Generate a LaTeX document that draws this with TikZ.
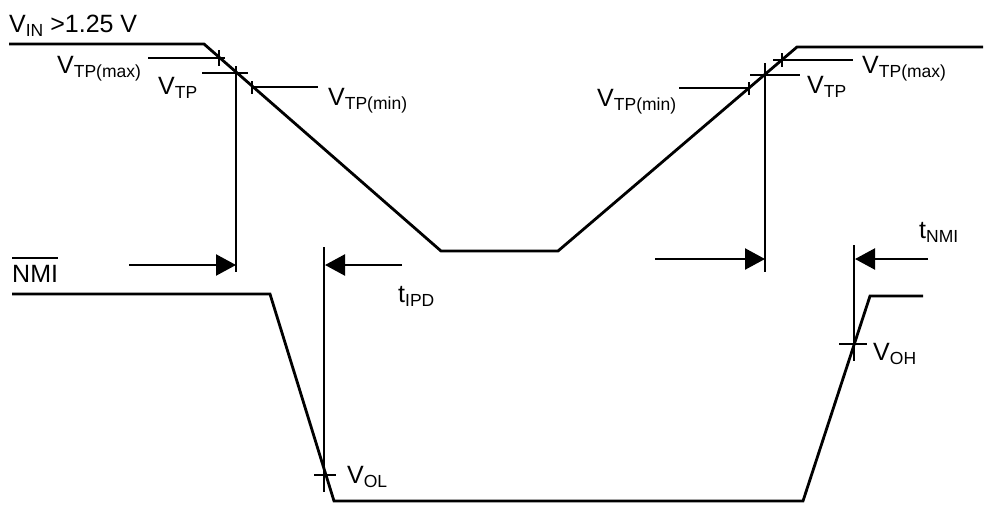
\documentclass[tikz,border=0pt]{standalone}
\usepackage{fontspec}
\setmainfont{Liberation Sans}
\usepackage{tikz}
\usetikzlibrary{arrows.meta}
\newcommand*{\sig}[2]{#1\raisebox{-4.5pt}{\fontsize{17.5}{17.5}\selectfont #2}}
\newcommand*{\barsig}[1]{\setbox0\hbox{#1}\rlap{\rule[23pt]{\wd0}{2.2pt}}\box0}
\tikzstyle{wave}=[black, line width=2.8pt, line join=miter]
\tikzstyle{level}=[black, line width=2.3pt]
\tikzstyle{lbl}=[black, inner sep=0pt, anchor=base west, font=\fontsize{25}{29}\selectfont]
\tikzstyle{timearrow}=[-{Triangle[length=20pt, width=21pt]}, line width=2.3pt, black]

\begin{document}
\begin{tikzpicture}[x=1pt, y=-1pt]
\useasboundingbox (0,0) rectangle (984,504);

% labels
\node [lbl] (vin) at (9,32) {\sig{V}{IN} >1.25 V};
\node [lbl] (vtpmaxl) at (57,73) {\sig{V}{TP(max)}};
\node [lbl] (vtpl) at (158,94) {\sig{V}{TP}};
\node [lbl] (vtpminl) at (328,105) {\sig{V}{TP(min)}};
\node [lbl] (vtpminr) at (597,106) {\sig{V}{TP(min)}};
\node [lbl] (vtpr) at (807,93) {\sig{V}{TP}};
\node [lbl] (vtpmaxr) at (862,73) {\sig{V}{TP(max)}};
\node [lbl] (nmi) at (12,282) {\barsig{NMI}};
\node [lbl] (tipd) at (398,302) {\sig{t}{IPD}};
\node [lbl] (tnmi) at (919,238) {\sig{t}{NMI}};
\node [lbl] (vol) at (347,483) {\sig{V}{OL}};
\node [lbl] (voh) at (873,360) {\sig{V}{OH}};

% input waveform
\draw [wave] (9,44) -- (204,44) -- (441,251) -- (558,251) -- (797,47) -- (983,47);

% thresholds on the falling edge
\draw [level] (148,58) -- (225,58);
\draw [level] (219,50) -- (219,66);
\draw [level] (202,73) -- (248,73);
\draw [level] (252,87) -- (318,87);
\draw [level] (252,81) -- (252,94);

% thresholds on the rising edge
\draw [level] (773,60) -- (853,60);
\draw [level] (782,53) -- (782,67);
\draw [level] (750,75) -- (800,75);
\draw [level] (679,88) -- (749,88);
\draw [level] (749,82) -- (749,95);

% output waveform
\draw [wave] (12,294) -- (270,294) -- (334,501) -- (803,501) -- (870,296) -- (923,296);
\draw [level] (314,475) -- (336,475);
\draw [level] (839,344) -- (867,344);

% reference lines
\coordinate (fallref) at (236,66);
\coordinate (fallend) at (236,272);
\coordinate (riseref) at (765,63);
\coordinate (riseend) at (765,272);
\coordinate (olref) at (324,247);
\coordinate (olend) at (324,492);
\coordinate (ohref) at (854,245);
\coordinate (ohend) at (854,361);
\draw [level] (fallref) -- (fallend);
\draw [level] (riseref) -- (riseend);
\draw [level] (olref) -- (olend);
\draw [level] (ohref) -- (ohend);

% delays
\coordinate (ipdin) at (129,265);
\coordinate (ipdleft) at (236,265);
\coordinate (ipdout) at (402,265);
\coordinate (ipdright) at (325,265);
\coordinate (nmiin) at (655,259);
\coordinate (nmileft) at (765,259);
\coordinate (nmiout) at (928,259);
\coordinate (nmiright) at (855,259);
\draw [timearrow] (ipdin) -- (ipdleft);
\draw [timearrow] (ipdout) -- (ipdright);
\draw [timearrow] (nmiin) -- (nmileft);
\draw [timearrow] (nmiout) -- (nmiright);
\end{tikzpicture}
\end{document}
